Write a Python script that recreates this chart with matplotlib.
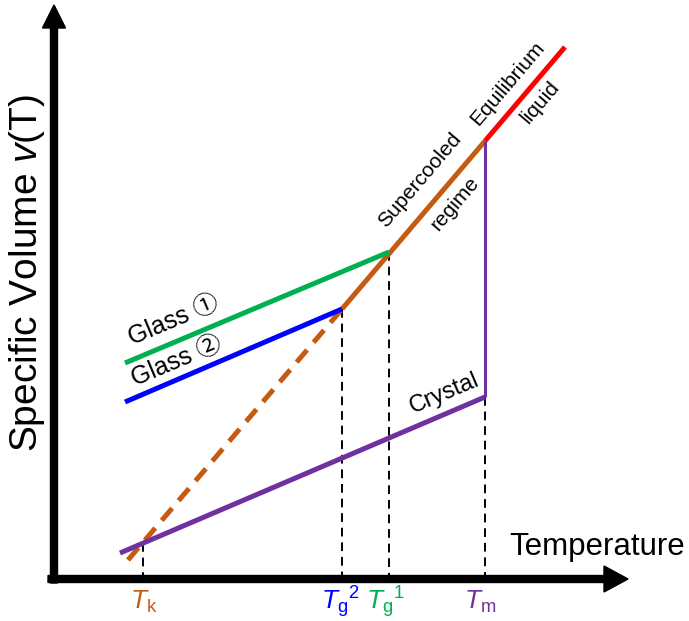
import matplotlib
matplotlib.use("Agg")
import matplotlib.pyplot as plt

plt.rcParams["font.family"] = ["Liberation Sans", "DejaVu Sans"]
plt.rcParams["mathtext.fontset"] = "custom"
plt.rcParams["mathtext.rm"] = "Liberation Sans"
plt.rcParams["mathtext.it"] = "Liberation Sans:italic"

# Characteristic temperatures (arbitrary units)
T_k = 143
T_g2 = 342
T_g1 = 389
T_m = 485

# Branches of the specific-volume diagram (temperature, volume), arbitrary units
liquid_T = [485, 565]
liquid_v = [480, 574]
supercooled_T = [342, 485]
supercooled_v = [312, 480]
extrapolated_T = [128, 342]
extrapolated_v = [61, 312]
glass1_T = [125, 389]
glass1_v = [258, 369]
glass2_T = [125, 342]
glass2_v = [219, 312]
crystal_T = [120, 485]
crystal_v = [68, 224]
melt_jump_v = [224, 480]

# Where each marked temperature meets its curve
marker_T = [T_k, T_g2, T_g1, T_m]
marker_v = [78, 312, 369, 224]

ORANGE = "#C55A11"
GREEN = "#00B050"
BLUE = "#0000FF"
RED = "#FF0000"
PURPLE = "#7030A0"

fig = plt.figure(figsize=(6.89, 6.21), dpi=100)
ax = fig.add_axes([0, 0, 1, 1])
ax.set_xlim(0, 689)
ax.set_ylim(0, 621)
ax.axis("off")

axis_T0 = 54
axis_v0 = 42

# Axes with arrow heads
ax.arrow(axis_T0, axis_v0 - 4, 0, 616 - (axis_v0 - 4), width=7, head_width=23,
         head_length=23, length_includes_head=True, color="black", zorder=5)
ax.arrow(48, axis_v0, 628 - 48, 0, width=7, head_width=26,
         head_length=24, length_includes_head=True, color="black", zorder=5)

lw = 3.6
ax.plot(liquid_T, liquid_v, color=RED, lw=lw, solid_capstyle="butt", zorder=3)
ax.plot(supercooled_T, supercooled_v, color=ORANGE, lw=lw, solid_capstyle="butt", zorder=3)
ax.plot(extrapolated_T, extrapolated_v, color=ORANGE, lw=lw, linestyle=(0, (3.2, 2.0)),
        dash_capstyle="butt", zorder=2)
ax.plot(glass1_T, glass1_v, color=GREEN, lw=lw, solid_capstyle="butt", zorder=3)
ax.plot(glass2_T, glass2_v, color=BLUE, lw=lw, solid_capstyle="butt", zorder=3)
ax.plot(crystal_T, crystal_v, color=PURPLE, lw=lw, solid_capstyle="butt", zorder=3)
ax.plot([T_m, T_m], melt_jump_v, color=PURPLE, lw=2.2, solid_capstyle="butt", zorder=3)

# Dashed guides down to the temperature axis
for T, v in zip(marker_T, marker_v):
    ax.plot([T, T], [v, axis_v0], color="black", lw=1.4, linestyle=(0, (4.5, 3.0)), zorder=1)

# Temperature labels
label_v = 12
ax.text(T_k + 1, label_v, r"$T_\mathrm{k}$", color=ORANGE, fontsize=19, ha="center", va="baseline")
ax.text(T_g2 - 2, label_v, r"$T_\mathrm{g}{}^2$", color=BLUE, fontsize=19, ha="center", va="baseline")
ax.text(T_g1 - 4, label_v, r"$T_\mathrm{g}{}^1$", color=GREEN, fontsize=19, ha="center", va="baseline")
ax.text(T_m - 5, label_v, r"$T_\mathrm{m}$", color=PURPLE, fontsize=19, ha="center", va="baseline")

# Axis titles
ax.text(597, 74, "Temperature", fontsize=22.5, ha="center", va="center")
ax.text(27, 348, r"Specific Volume $v$(T)", fontsize=28, rotation=90, ha="center", va="center")

# Branch annotations
circ_fam = ["Liberation Sans", "Noto Sans CJK JP", "DejaVu Sans"]
ax.text(174, 301, "Glass \u2460", fontsize=18, rotation=22.8, ha="center", va="center",
        family=circ_fam)
ax.text(177, 260, "Glass \u2461", fontsize=18, rotation=22.8, ha="center", va="center",
        family=circ_fam)
ax.text(444, 228, "Crystal", fontsize=17, rotation=23, ha="center", va="center")
ax.text(420, 441, "Supercooled", fontsize=15, rotation=49.6, ha="center", va="center")
ax.text(455, 417, "regime", fontsize=15, rotation=49.6, ha="center", va="center")
ax.text(508, 538, "Equilibrium", fontsize=15, rotation=49.6, ha="center", va="center")
ax.text(540, 519, "liquid", fontsize=15, rotation=49.6, ha="center", va="center")

fig.savefig("out.png", dpi=100)
